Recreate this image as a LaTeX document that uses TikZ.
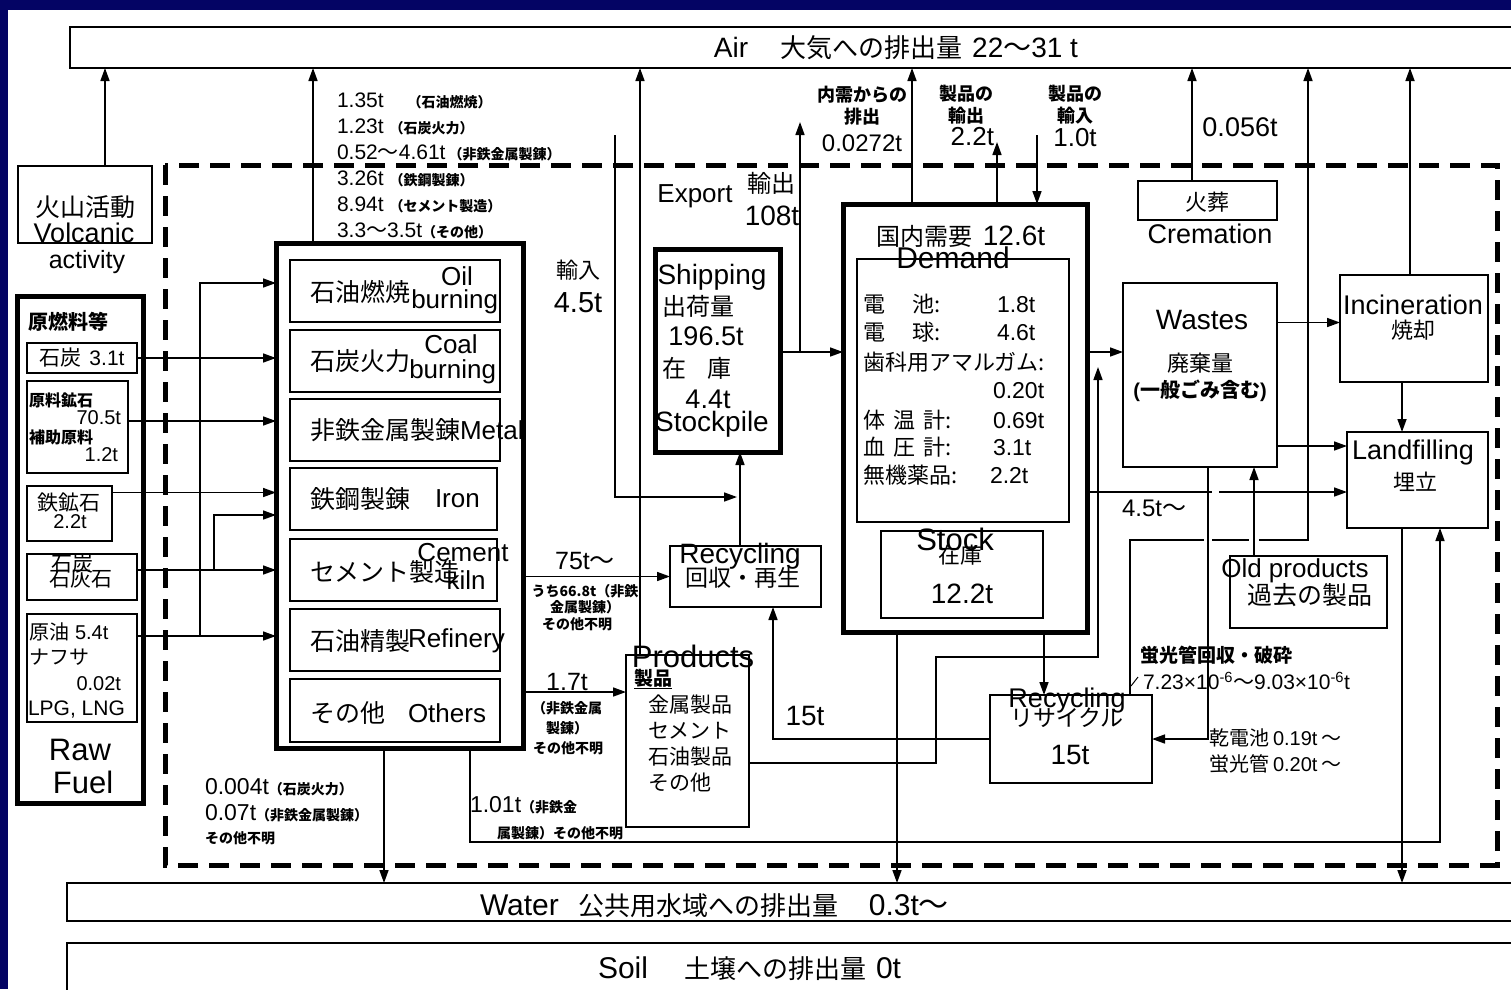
\documentclass[tikz,border=0pt]{standalone}
\usepackage{fontspec}
\setmainfont{Liberation Sans}
\newfontfamily\jpfont{Noto Sans CJK JP}
\newcommand{\jp}[1]{{\jpfont #1}}
\newcommand{\fs}[1]{\fontsize{#1}{#1}\selectfont}
\newcommand{\sm}[1]{{\fs{14}\bfseries\jpfont #1}}
\usetikzlibrary{arrows.meta}
\definecolor{navy}{RGB}{4,4,100}

\begin{document}
\begin{tikzpicture}[x=1pt,y=-1pt,
  box/.style={draw,line width=1.6pt,inner sep=0pt,outer sep=0pt,anchor=north west},
  heavy/.style={box,line width=5pt},
  txt/.style={inner sep=0pt,outer sep=0pt},
  ln/.style={line width=1.6pt},
  arr/.style={ln,-{Triangle[length=13pt,width=9pt]}},
  bound/.style={line width=5pt,dash pattern=on 20pt off 11pt}]
  \useasboundingbox (0,0) rectangle (1511,989);
  \clip (0,0) rectangle (1511,989);
  \fill[navy] (0,0) rectangle (1511,989);
  \fill[white] (8,10) rectangle (1511,989);

  % system boundary
  \draw[bound] (165,165) rectangle (1497,865);

  % sinks
  \node[box,minimum width=1460,minimum height=41] (air) at (70,27) {};
  \node[box,minimum width=1460,minimum height=38] (water) at (67,883) {};
  \node[box,minimum width=1460,minimum height=60] (soil) at (67,943) {};

  % boxes
  \node[box,minimum width=134,minimum height=77] (volc) at (18,166) {};
  \node[heavy,minimum width=126,minimum height=507] (raw) at (17,296) {};
  \node[box,minimum width=110,minimum height=30] (rcoal) at (27,343) {};
  \node[box,minimum width=101,minimum height=92] (rore) at (27,381) {};
  \node[box,minimum width=85,minimum height=55] (riron) at (27,486) {};
  \node[box,minimum width=110,minimum height=46] (rlime) at (27,554) {};
  \node[box,minimum width=110,minimum height=108] (roil) at (27,614) {};
  \node[heavy,minimum width=247,minimum height=505] (proc) at (276,243) {};
  \node[box,minimum width=210,minimum height=62] (p1) at (290,260) {};
  \node[box,minimum width=210,minimum height=62] (p2) at (290,330) {};
  \node[box,minimum width=210,minimum height=62] (p3) at (290,399) {};
  \node[box,minimum width=207,minimum height=62] (p4) at (290,468) {};
  \node[box,minimum width=207,minimum height=62] (p5) at (290,539) {};
  \node[box,minimum width=210,minimum height=62] (p6) at (290,609) {};
  \node[box,minimum width=210,minimum height=63] (p7) at (290,679) {};
  \node[heavy,minimum width=125,minimum height=203] (ship) at (655,249) {};
  \node[box,minimum width=151,minimum height=61] (rec1) at (670,546) {};
  \node[box,minimum width=123,minimum height=172] (prod) at (626,655) {};
  \node[heavy,minimum width=244,minimum height=428] (dem) at (843,204) {};
  \node[box,minimum width=212,minimum height=263] (deminner) at (857,259) {};
  \node[box,minimum width=162,minimum height=87] (stock) at (881,531) {};
  \node[box,minimum width=139,minimum height=39] (crem) at (1138,181) {};
  \node[box,minimum width=154,minimum height=184] (waste) at (1123,283) {};
  \node[box,minimum width=148,minimum height=107] (incin) at (1340,275) {};
  \node[box,minimum width=141,minimum height=96] (land) at (1347,432) {};
  \node[box,minimum width=157,minimum height=72] (old) at (1230,556) {};
  \node[box,minimum width=162,minimum height=88] (rec2) at (990,695) {};

  % raw fuel to processes
  \coordinate (limeup) at (214,515);
  \coordinate (oilup) at (200,283);
  \draw[arr] (rcoal.east) -- (rcoal.east -| proc.west);
  \draw[arr] ([yshift=6]rore.east) -- ([yshift=6]rore.east -| proc.west);
  \draw[arr] ([yshift=21]riron.east) -- ([yshift=21]riron.east -| proc.west);
  \draw[arr] ([yshift=7]rlime.east) -- ([yshift=7]rlime.east -| proc.west);
  \draw[arr] ([yshift=32]roil.east) -- ([yshift=32]roil.east -| proc.west);
  \draw[arr] ([yshift=7]rlime.east -| limeup) |- (limeup -| proc.west);
  \draw[arr] ([yshift=32]roil.east -| oilup) |- (oilup -| proc.west);
  \draw[arr] ([xshift=87]volc.north west) -- ([xshift=87]volc.north west |- air.south);

  % process outputs
  \coordinate (p17) at (523,692);
  \draw[arr] ([xshift=37]proc.north west) -- ([xshift=37]proc.north west |- air.south);
  \draw[arr] (proc.east |- rec1.west) -- (rec1.west);
  \draw[arr] (p17) -- (p17 -| prod.west);
  \draw[arr] ([xshift=108]proc.south west) -- ([xshift=108]proc.south west |- water.north);
  \draw[arr] ([xshift=194]proc.south west) -- ++(0,94) -| ([xshift=93]land.south west);

  % shipping, import, export
  \coordinate (impin) at (615,135);
  \coordinate (impto) at (737,497);
  \draw[arr] (impin) |- (impto);
  \draw[arr] ([xshift=70]rec1.north west) -- ([xshift=70]rec1.north west |- ship.south);
  \draw[arr] ([xshift=14]prod.north west) -- ([xshift=14]prod.north west |- air.south);
  \draw[arr] ([yshift=-1.5]ship.east) -- ([yshift=-1.5]ship.east -| dem.west);
  \draw[arr] ([xshift=20,yshift=-1.5]ship.east) -- ++(0,-230);

  % demand
  \coordinate (dwin) at (1123,352);
  \coordinate (gapa) at (1212,492);
  \coordinate (gapb) at (1219,492);
  \draw[arr] ([xshift=69]dem.north west) -- ([xshift=69]dem.north west |- air.south);
  \draw[arr] ([xshift=154]dem.north west) -- ([xshift=154,yshift=62]dem.north west);
  \draw[arr] ([xshift=194,yshift=69]dem.north west) -- ([xshift=194]dem.north west);
  \draw[arr] ([xshift=54]dem.south west) -- ([xshift=54]dem.south west |- water.north);
  \draw[arr] ([xshift=201]dem.south west) -- ([xshift=201]dem.south west |- rec2.north);
  \draw[arr] (dwin -| dem.east) -- (dwin);
  \draw[ln] (gapa -| dem.east) -- (gapa);
  \draw[arr] (gapb) -- (gapb -| land.west);

  % products to wastes
  \coordinate (pbend) at (936,657);
  \coordinate (pup) at (1098,367);
  \draw[arr] ([yshift=-22]prod.east) -| (pbend) -| (pup);

  % recycling
  \coordinate (ra) at (1204,540);
  \coordinate (rb) at (1212,540);
  \coordinate (rc) at (1249,540);
  \coordinate (rd) at (1259,540);
  \coordinate (re) at (1308,540);
  \draw[arr] (rec2.west) -| ([xshift=103]rec1.south west);
  \draw[ln] ([xshift=140]rec2.north west) |- (ra);
  \draw[ln] (rb) -- (rc);
  \draw[arr] (rd) -- (re) -- (re |- air.south);
  \draw[line width=1pt] (1131,686) -- (1138,677);

  % wastes
  \draw[arr] ([xshift=85]waste.south west) |- (rec2.east);
  \draw[arr] ([xshift=24]old.north west) -- ([xshift=24]old.north west |- waste.south);
  \draw[arr] ([yshift=6]incin.west -| waste.east) -- ([yshift=6]incin.west);
  \draw[arr] ([yshift=34]land.west -| waste.east) -- ([yshift=34]land.west);
  \draw[arr] ([xshift=62]incin.south west) -- ([xshift=62]incin.south west |- land.north);
  \draw[arr] ([xshift=70]incin.north west) -- ([xshift=70]incin.north west |- air.south);
  \draw[arr] ([xshift=55]land.south west) -- ([xshift=55]land.south west |- water.north);
  \draw[arr] ([xshift=54]crem.north west) -- ([xshift=54]crem.north west |- air.south);

  % sink labels
  \node[txt,font=\fs{28}] (airtxt) at (896,48) {Air\hspace{32pt}{\fs{26}\jp{大気への排出量}}\hspace{10pt}22\jp{～}31 t};
  \node[txt,font=\fs{30},anchor=west] (watertxt) at (480,906) {Water\hspace{20pt}{\fs{26}\jp{公共用水域への排出量}}\hspace{30pt}0.3t\jp{～}};
  \node[txt,font=\fs{30},anchor=west] (soiltxt) at (598,969) {Soil\hspace{36pt}{\fs{26}\jp{土壌への排出量}}\hspace{10pt}0t};

  % volcanic and raw fuel
  \node[txt,font=\fs{25}] (vo1) at (85,207) {\jp{火山活動}};
  \node[txt,font=\fs{27}] (vo2) at (84,233) {Volcanic};
  \node[txt,font=\fs{25}] (vo3) at (87,262) {activity};
  \node[txt,font=\fs{20}\bfseries,anchor=west] (rf0) at (28,322) {\jp{原燃料等}};
  \node[txt,font=\fs{21}] (rf1) at (82,358) {\jp{石炭}\hspace{8pt}3.1t};
  \node[txt,font=\fs{16}\bfseries,anchor=west] (rf2) at (29,400) {\jp{原料鉱石}};
  \node[txt,font=\fs{20},anchor=east] (rf3) at (121,418) {70.5t};
  \node[txt,font=\fs{16}\bfseries,anchor=west] (rf4) at (29,437) {\jp{補助原料}};
  \node[txt,font=\fs{20},anchor=east] (rf5) at (118,455) {1.2t};
  \node[txt,font=\fs{21}] (rf6) at (69,503) {\jp{鉄鉱石}};
  \node[txt,font=\fs{20}] (rf7) at (70,522) {2.2t};
  \node[txt,font=\fs{21}] (rf8) at (72,564) {\jp{石炭}};
  \node[txt,font=\fs{21}] (rf9) at (81,579) {\jp{石灰石}};
  \node[txt,font=\fs{20},anchor=west] (rf10) at (29,632) {\jp{原油}\hspace{6pt}5.4t};
  \node[txt,font=\fs{20},anchor=west] (rf11) at (29,657) {\jp{ナフサ}};
  \node[txt,font=\fs{20},anchor=east] (rf12) at (121,684) {0.02t};
  \node[txt,font=\fs{21},anchor=west] (rf13) at (28,709) {LPG, LNG};
  \node[txt,font=\fs{31}] (rf14) at (80,750) {Raw};
  \node[txt,font=\fs{31}] (rf15) at (83,782) {Fuel};

  % process labels
  \node[txt,font=\fs{25},anchor=west] (tp1a) at (310,292) {\jp{石油燃焼}};
  \node[txt,font=\fs{26}] (tp1b) at (457,276) {Oil};
  \node[txt,font=\fs{26},anchor=east] (tp1c) at (498,302) {burning};
  \node[txt,font=\fs{25},anchor=west] (tp2a) at (310,361) {\jp{石炭火力}};
  \node[txt,font=\fs{26}] (tp2b) at (451,344) {Coal};
  \node[txt,font=\fs{26},anchor=east] (tp2c) at (496,372) {burning};
  \node[txt,font=\fs{25},anchor=west] (tp3) at (310,430) {\jp{非鉄金属製錬}{\fs{26}Metal}};
  \node[txt,font=\fs{25},anchor=west] (tp4a) at (310,499) {\jp{鉄鋼製錬}};
  \node[txt,font=\fs{26},anchor=west] (tp4b) at (435,499) {Iron};
  \node[txt,font=\fs{25},anchor=west] (tp5a) at (310,572) {\jp{セメント製造}};
  \node[txt,font=\fs{26}] (tp5b) at (463,553) {Cement};
  \node[txt,font=\fs{26}] (tp5c) at (466,580) {kiln};
  \node[txt,font=\fs{25},anchor=west] (tp6a) at (310,641) {\jp{石油精製}};
  \node[txt,font=\fs{26},anchor=west] (tp6b) at (408,641) {Refinery};
  \node[txt,font=\fs{25},anchor=west] (tp7a) at (310,713) {\jp{その他}};
  \node[txt,font=\fs{26},anchor=west] (tp7b) at (408,713) {Others};

  % emissions to air from processes
  \node[txt,font=\fs{21},anchor=west] (em1) at (337,101) {1.35t\hspace{24pt}\sm{（石油燃焼）}};
  \node[txt,font=\fs{21},anchor=west] (em2) at (337,127) {1.23t\hspace{6pt}\sm{（石炭火力）}};
  \node[txt,font=\fs{21},anchor=west] (em3) at (337,153) {0.52\jp{～}4.61t\hspace{3pt}\sm{（非鉄金属製錬）}};
  \node[txt,font=\fs{21},anchor=west] (em4) at (337,179) {3.26t\hspace{6pt}\sm{（鉄鋼製錬）}};
  \node[txt,font=\fs{21},anchor=west] (em5) at (337,205) {8.94t\hspace{6pt}\sm{（セメント製造）}};
  \node[txt,font=\fs{21},anchor=west] (em6) at (337,231) {3.3\jp{～}3.5t\sm{（その他）}};
  \node[txt,font=\fs{23},anchor=west] (b1) at (205,787) {0.004t\sm{（石炭火力）}};
  \node[txt,font=\fs{23},anchor=west] (b2) at (205,813) {0.07t\sm{（非鉄金属製錬）}};
  \node[txt,anchor=west] (b3) at (205,838) {\sm{その他不明}};
  \node[txt,font=\fs{23},anchor=west] (b4) at (470,805) {1.01t\sm{（非鉄金}};
  \node[txt,anchor=west] (b5) at (497,833) {\sm{属製錬）その他不明}};

  % flows to recycling and products
  \node[txt,font=\fs{22}] (im1) at (578,270) {\jp{輸入}};
  \node[txt,font=\fs{29}] (im2) at (578,303) {4.5t};
  \node[txt,font=\fs{25}] (s1) at (585,561) {75t\jp{～}};
  \node[txt] (s2) at (585,591) {\sm{うち66.8t（非鉄}};
  \node[txt] (s3) at (585,607) {\sm{金属製錬）}};
  \node[txt] (s4) at (577,624) {\sm{その他不明}};
  \node[txt,font=\fs{25}] (q1) at (567,682) {1.7t};
  \node[txt] (q2) at (567,708) {\sm{（非鉄金属}};
  \node[txt] (q3) at (567,728) {\sm{製錬）}};
  \node[txt] (q4) at (568,748) {\sm{その他不明}};
  \node[txt,font=\fs{31}] (pr1) at (693,656) {Products};
  \node[txt,font=\fs{19}\bfseries,anchor=west] (pr2) at (634,679) {\underline{\jp{製品}}};
  \node[txt,font=\fs{21},anchor=west] (pr3) at (648,705) {\jp{金属製品}};
  \node[txt,font=\fs{21},anchor=west] (pr4) at (648,731) {\jp{セメント}};
  \node[txt,font=\fs{21},anchor=west] (pr5) at (648,757) {\jp{石油製品}};
  \node[txt,font=\fs{21},anchor=west] (pr6) at (648,783) {\jp{その他}};
  \node[txt,font=\fs{28}] (rc1) at (740,556) {Recycling};
  \node[txt,font=\fs{23}] (rc2) at (743,578) {\jp{回収・再生}};
  \node[txt,font=\fs{28}] (t15) at (805,716) {15t};

  % shipping and export
  \node[txt,font=\fs{28}] (sh1) at (712,277) {Shipping};
  \node[txt,font=\fs{24},anchor=west] (sh2) at (662,306) {\jp{出荷量}};
  \node[txt,font=\fs{27}] (sh3) at (706,336) {196.5t};
  \node[txt,font=\fs{24},anchor=west] (sh4) at (662,368) {\jp{在}\hspace{22pt}\jp{庫}};
  \node[txt,font=\fs{27}] (sh5) at (708,399) {4.4t};
  \node[txt,font=\fs{28}] (sh6) at (712,424) {Stockpile};
  \node[txt,font=\fs{26}] (ex1) at (695,196) {Export};
  \node[txt,font=\fs{24}] (ex2) at (771,183) {\jp{輸出}};
  \node[txt,font=\fs{28}] (ex3) at (772,216) {108t};

  % demand
  \node[txt,font=\fs{18}\bfseries] (dl1) at (862,95) {\jp{内需からの}};
  \node[txt,font=\fs{18}\bfseries] (dl2) at (862,117) {\jp{排出}};
  \node[txt,font=\fs{24}] (dl3) at (862,143) {0.0272t};
  \node[txt,font=\fs{18}\bfseries] (xl1) at (966,94) {\jp{製品の}};
  \node[txt,font=\fs{18}\bfseries] (xl2) at (966,116) {\jp{輸出}};
  \node[txt,font=\fs{26},anchor=east] (xl3) at (994,137) {2.2t};
  \node[txt,font=\fs{18}\bfseries] (il1) at (1075,94) {\jp{製品の}};
  \node[txt,font=\fs{18}\bfseries] (il2) at (1075,116) {\jp{輸入}};
  \node[txt,font=\fs{26}] (il3) at (1075,138) {1.0t};
  \node[txt,font=\fs{28}] (demt) at (961,236) {{\fs{24}\jp{国内需要}}\hspace{10pt}12.6t};
  \node[txt,font=\fs{30}] (demd) at (953,258) {Demand};
  \node[txt,font=\fs{23},anchor=west] (d1) at (863,304) {\makebox[134pt][l]{{\fs{22}\jp{電}\hspace{28pt}\jp{池:}}}1.8t};
  \node[txt,font=\fs{23},anchor=west] (d2) at (863,332) {\makebox[134pt][l]{{\fs{22}\jp{電}\hspace{28pt}\jp{球:}}}4.6t};
  \node[txt,font=\fs{22},anchor=west] (d3) at (863,362) {\jp{歯科用アマルガム:}};
  \node[txt,font=\fs{23},anchor=west] (d4) at (993,391) {0.20t};
  \node[txt,font=\fs{23},anchor=west] (d5) at (863,420) {\makebox[130pt][l]{{\fs{22}\jp{体}\hspace{8pt}\jp{温}\hspace{8pt}\jp{計:}}}0.69t};
  \node[txt,font=\fs{23},anchor=west] (d6) at (863,447) {\makebox[130pt][l]{{\fs{22}\jp{血}\hspace{8pt}\jp{圧}\hspace{8pt}\jp{計:}}}3.1t};
  \node[txt,font=\fs{23},anchor=west] (d7) at (863,475) {\makebox[127pt][l]{{\fs{22}\jp{無機薬品:}}}2.2t};
  \node[txt,font=\fs{31}] (stk1) at (955,539) {Stock};
  \node[txt,font=\fs{22}] (stk2) at (960,555) {\jp{在庫}};
  \node[txt,font=\fs{28}] (stk3) at (962,594) {12.2t};

  % right side
  \node[txt,font=\fs{27}] (cl) at (1240,127) {0.056t};
  \node[txt,font=\fs{22}] (cr1) at (1207,202) {\jp{火葬}};
  \node[txt,font=\fs{27}] (cr2) at (1210,234) {Cremation};
  \node[txt,font=\fs{28}] (w1) at (1202,320) {Wastes};
  \node[txt,font=\fs{22}] (w2) at (1200,363) {\jp{廃棄量}};
  \node[txt,font=\fs{20}\bfseries] (w3) at (1200,391) {(\jp{一般ごみ含む})};
  \node[txt,font=\fs{27}] (in1) at (1413,305) {Incineration};
  \node[txt,font=\fs{22}] (in2) at (1413,330) {\jp{焼却}};
  \node[txt,font=\fs{27}] (la1) at (1413,453) {Landfilling};
  \node[txt,font=\fs{22}] (la2) at (1415,482) {\jp{埋立}};
  \node[txt,font=\fs{26}] (ol1) at (1295,571) {Old products};
  \node[txt,font=\fs{25}] (ol2) at (1310,595) {\jp{過去の製品}};
  \node[txt,font=\fs{24},anchor=west] (t45) at (1122,508) {4.5t\jp{～}};
  \node[txt,font=\fs{27}] (rr1) at (1067,701) {Recycling};
  \node[txt,font=\fs{23}] (rr2) at (1067,718) {\jp{リサイクル}};
  \node[txt,font=\fs{28}] (rr3) at (1070,755) {15t};
  \node[txt,font=\fs{19}\bfseries,anchor=west] (fl1) at (1140,655) {\jp{蛍光管回収・破砕}};
  \node[txt,font=\fs{21},anchor=west] (fl2) at (1143,681) {7.23×10\textsuperscript{-6}\jp{～}9.03×10\textsuperscript{-6}t};
  \node[txt,font=\fs{20},anchor=west] (bt1) at (1209,738) {\jp{乾電池}\hspace{4pt}0.19t\hspace{4pt}\jp{～}};
  \node[txt,font=\fs{20},anchor=west] (bt2) at (1209,764) {\jp{蛍光管}\hspace{4pt}0.20t\hspace{4pt}\jp{～}};
\end{tikzpicture}
\end{document}
